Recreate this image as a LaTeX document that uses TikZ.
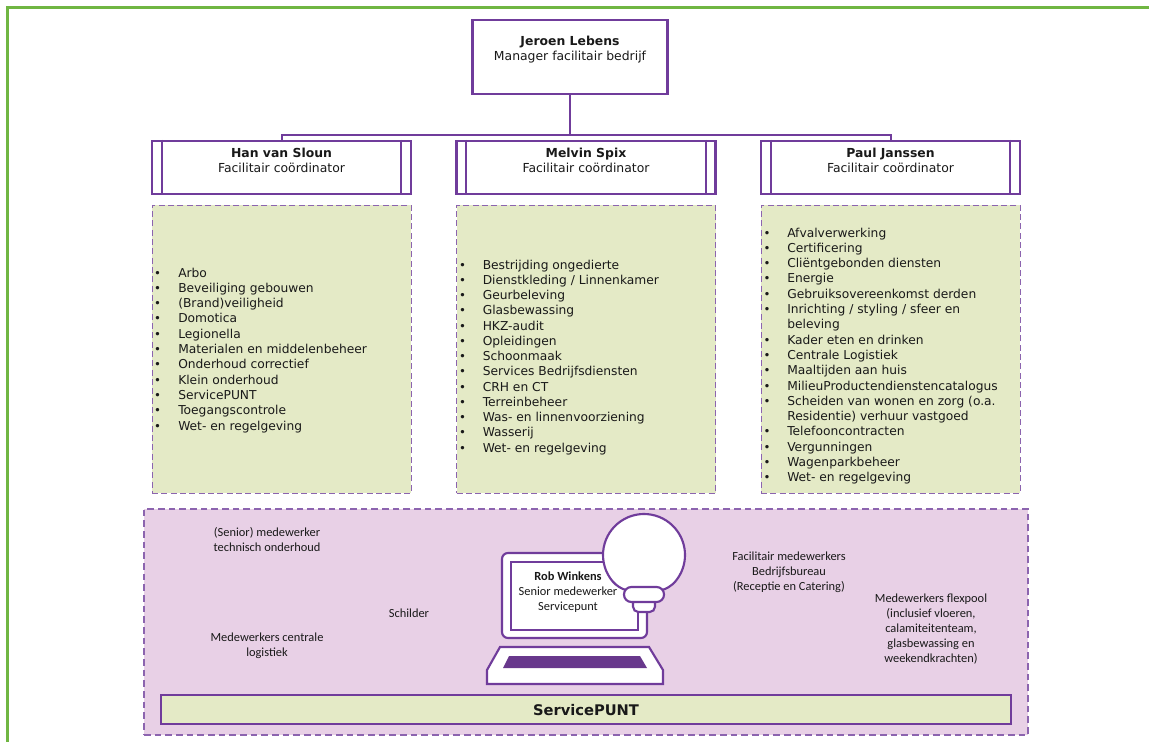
\documentclass[tikz,border=0pt]{standalone}
\usepackage{fontspec}
\setmainfont{DejaVu Sans}
\newfontfamily\calfont{Carlito}
\definecolor{purp}{RGB}{112,60,155}
\definecolor{dpurp}{RGB}{104,56,140}
\definecolor{lgreen}{RGB}{228,234,198}
\definecolor{pinkbg}{RGB}{232,208,230}
\definecolor{dashp}{RGB}{140,100,175}
\definecolor{frameg}{RGB}{112,182,66}
\definecolor{txt}{RGB}{25,25,25}
\tikzset{
  topbox/.style={draw=purp, line width=1.7pt, fill=white, minimum width=146.25pt, minimum height=55.5pt, inner sep=0pt},
  coordbox/.style={draw=purp, line width=1.7pt, fill=white, minimum width=194.25pt, minimum height=39.75pt, inner sep=0pt},
  listbox/.style={draw=dashp, dash pattern=on 4.5pt off 2.5pt, line width=0.75pt, fill=lgreen, minimum width=194.25pt, minimum height=216pt, inner sep=0pt},
  pinkbox/.style={draw=dashp, dash pattern=on 5pt off 3pt, line width=0.9pt, fill=pinkbg, minimum width=663pt, minimum height=169.5pt, inner sep=0pt},
  barbox/.style={draw=purp, line width=1.8pt, fill=lgreen, minimum width=637.5pt, minimum height=21.75pt, inner sep=0pt},
  conn/.style={draw=purp, line width=1.5pt},
  inline/.style={draw=purp, line width=1.4pt},
  boxtxt/.style={font=\fontsize{9.3}{11.25}\selectfont, align=center, inner sep=0pt, text=txt},
  listtxt/.style={font=\fontsize{9.2}{11.5}\selectfont, anchor=base west, inner sep=0pt, text=txt},
  bul/.style={font=\fontsize{8.8}{11.5}\selectfont, anchor=base, inner sep=0pt, text=txt},
  caltxt/.style={font=\calfont\fontsize{9.3}{11.25}\selectfont, align=center, inner sep=0pt, text=txt},
  icon/.style={draw=purp, line width=1.6pt, fill=white},
}
\begin{document}
\begin{tikzpicture}[x=0.75pt,y=0.75pt]
\useasboundingbox (0,0) rectangle (1149,-742);
\fill[white] (0,0) rectangle (1149,-742);
% green frame
\draw[frameg, line width=2.3pt] (7.3,-742) -- (7.3,-7.3) -- (1149,-7.3);

% top box
\node[topbox] (jl) at (570,-57) {};
\node[boxtxt] (jlt) at (570,-49.5) {\textbf{Jeroen Lebens}\\Manager facilitair bedrijf};

% coordinator boxes
\node[coordbox] (han) at (281.5,-167.5) {};
\node[coordbox] (mel) at (586,-167.5) {};
\node[coordbox] (paul) at (890.5,-167.5) {};
\foreach \b in {han,mel,paul}{
  \draw[inline] ([xshift=8.25pt]\b.north west) -- ([xshift=8.25pt]\b.south west);
  \draw[inline] ([xshift=-8.25pt]\b.north east) -- ([xshift=-8.25pt]\b.south east);
}
\node[boxtxt] (hant) at (281.5,-160.5) {\textbf{Han van Sloun}\\Facilitair coördinator};
\node[boxtxt] (melt) at (586,-160.5) {\textbf{Melvin Spix}\\Facilitair coördinator};
\node[boxtxt] (pault) at (890.5,-160.5) {\textbf{Paul Janssen}\\Facilitair coördinator};

% connectors
\coordinate (hl) at (281.5,-134.5);
\draw[conn] (han.north) -- (han.north |- hl) -- (paul.north |- hl) -- (paul.north);
\draw[conn] (jl.south) -- (jl.south |- hl);

% list boxes
\node[listbox] (hanl) at (281.5,-349) {};
\node[listbox] (mell) at (586,-349) {};
\node[listbox] (paull) at (890.5,-349) {};

\foreach \t [count=\i] in {Arbo, Beveiliging gebouwen, (Brand)veiligheid, Domotica, Legionella, Materialen en middelenbeheer, Onderhoud correctief, Klein onderhoud, ServicePUNT, Toegangscontrole, Wet- en regelgeving}{
  \node[bul] (hb\i) at (157.5,{-(277+15.3*(\i-1))}) {\textbullet};
  \node[listtxt] (ht\i) at (178,{-(277+15.3*(\i-1))}) {\t};
}
\foreach \t [count=\i] in {Bestrijding ongedierte, Dienstkleding / Linnenkamer, Geurbeleving, Glasbewassing, HKZ-audit, Opleidingen, Schoonmaak, Services Bedrijfsdiensten, CRH en CT, Terreinbeheer, Was- en linnenvoorziening, Wasserij, Wet- en regelgeving}{
  \node[bul] (mb\i) at (462.5,{-(269+15.25*(\i-1))}) {\textbullet};
  \node[listtxt] (mt\i) at (482.5,{-(269+15.25*(\i-1))}) {\t};
}
\foreach \t [count=\i] in {Afvalverwerking, Certificering, Cliëntgebonden diensten, Energie, Gebruiksovereenkomst derden, Inrichting / styling / sfeer en, beleving, Kader eten en drinken, Centrale Logistiek, Maaltijden aan huis, MilieuProductendienstencatalogus, Scheiden van wonen en zorg (o.a., Residentie) verhuur vastgoed, Telefooncontracten, Vergunningen, Wagenparkbeheer, Wet- en regelgeving}{
  \node[listtxt] (pt\i) at (787,{-(237+15.3*(\i-1))}) {\t};
}
\foreach \i in {1,2,3,4,5,6,8,9,10,11,12,14,15,16,17}{
  \node[bul] (pb\i) at (767,{-(237+15.3*(\i-1))}) {\textbullet};
}

% bottom area
\node[pinkbox] (pink) at (586,-622) {};
\node[barbox] (bar) at (586,-709.5) {};
\node[font=\bfseries\fontsize{11}{13}\selectfont, text=txt, inner sep=0pt] (bart) at (586,-710) {ServicePUNT};

\node[caltxt] (p1) at (267,-540) {(Senior) medewerker\\technisch onderhoud};
\node[caltxt] (p2) at (409,-613) {Schilder};
\node[caltxt] (p3) at (267,-645.5) {Medewerkers centrale\\logistiek};
\node[caltxt] (p4) at (789,-572.5) {Facilitair medewerkers\\Bedrijfsbureau\\(Receptie en Catering)};
\node[caltxt] (p5) at (931,-629) {Medewerkers flexpool\\(inclusief vloeren,\\calamiteitenteam,\\glasbewassing en\\weekendkrachten)};

% computer icon
\draw[icon, rounded corners=4.5pt] (502,-553) rectangle (647,-638);
\draw[icon, line width=1.3pt] (511,-562) rectangle (638,-630);
\draw[icon] (500,-647) -- (649,-647) -- (663,-670) -- (663,-684) -- (487,-684) -- (487,-670) -- cycle;
\fill[dpurp] (509,-656) -- (640,-656) -- (647,-668) -- (503,-668) -- cycle;
% bulb
\draw[icon, rounded corners=4pt] (633,-598) rectangle (655,-612);
\draw[icon] (626,-590) .. controls (622,-589) and (616.5,-586) .. (612.6,-581.35)
  arc[start angle=220, end angle=-40, radius=30.75pt]
  .. controls (671.5,-586) and (666,-589) .. (662,-590) -- cycle;
\draw[icon, rounded corners=5.5pt] (624,-587) rectangle (664,-602);
\node[caltxt] (rob) at (568,-592) {\textbf{Rob Winkens}\\Senior medewerker\\Servicepunt};
\end{tikzpicture}
\end{document}
